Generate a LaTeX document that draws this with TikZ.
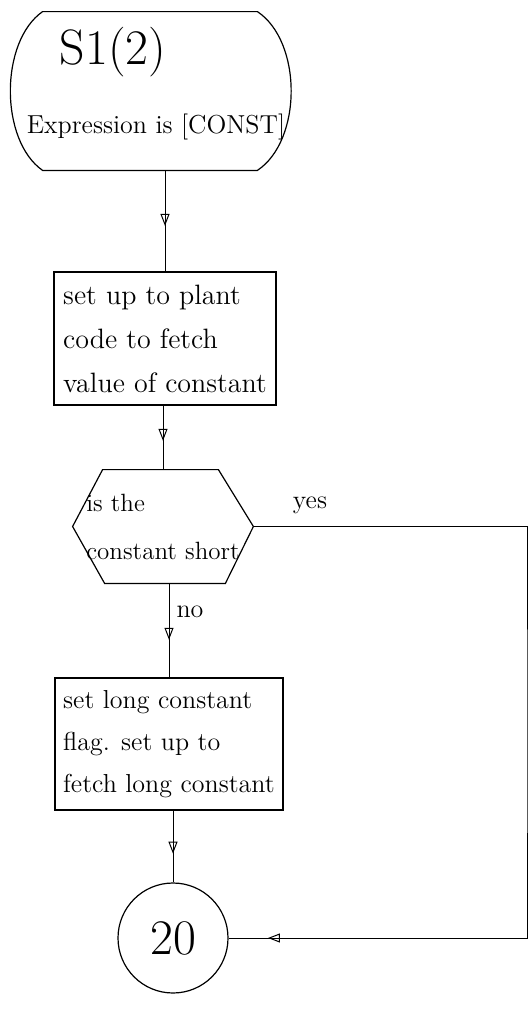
\documentclass[tikz,border=0pt]{standalone}
\usepackage{tikz}
\usetikzlibrary{arrows.meta, positioning, calc, decorations.markings}

\begin{document}
\begin{tikzpicture}[x=0.5pt, y=-0.5pt, >={Triangle[open, length=6pt, width=4.5pt]},
  flow/.style={line width=0.5pt, postaction={decorate}, decoration={markings, mark=at position #1 with {\arrow{>}}}}]
  \tikzstyle{proc} = [rectangle, draw=black, line width=0.6pt, align=left, inner sep=0pt, font=\fontsize{14}{22}\selectfont]
  \tikzstyle{outline} = [line width=0.6pt]
  \tikzstyle{lbl} = [font=\fontsize{13}{16}\selectfont]

  \useasboundingbox (0,0) rectangle (530,1012);

  \node [minimum width=107pt, minimum height=79pt, inner sep=0pt] (start) at (150,91) {};
  \draw [outline] (start.north west) -- (start.north east)
    .. controls ($(start.north east)+(45,30)$) and ($(start.south east)+(45,-30)$) .. (start.south east)
    -- (start.south west)
    .. controls ($(start.south west)+(-43,-30)$) and ($(start.north west)+(-43,30)$) .. cycle;
  \node [font=\Huge] (title) at (113,52) {S1(2)};
  \node [lbl] (expr) at (156,127) {Expression is [CONST]};

  \node [proc, minimum width=111pt, minimum height=66.5pt] (box1) at (165,338.5) {set up to plant\\code to fetch\\value of constant};

  \node [minimum width=90pt, minimum height=56.5pt, inner sep=0pt, align=left, font=\fontsize{12.5}{24}\selectfont] (decide) at (163,526.5) {is the\\constant short};
  \draw [outline] ($(decide.north west)+(30,0)$) -- ($(decide.north east)+(-35,0)$) -- (decide.east)
    -- ($(decide.south east)+(-28,0)$) -- ($(decide.south west)+(32,0)$) -- (decide.west) -- cycle;

  \node [proc, minimum width=114pt, minimum height=66pt, font=\fontsize{13}{21}\selectfont] (box2) at (169,744) {set long constant\\flag. set up to\\fetch long constant};

  \node [circle, draw, outline, minimum size=55pt, inner sep=0pt, font=\Huge] (ret) at (173,938) {20};

  \coordinate (rail) at (527,730);

  \draw [flow=0.55] (box1.north |- start.south) -- (box1.north);
  \draw [flow=0.55] (decide.north |- box1.south) -- (decide.north);
  \draw [flow=0.6] (box2.north |- decide.south) -- (box2.north);
  \draw [flow=0.6] (ret.north |- box2.south) -- (ret.north);
  \draw [flow=0.96] (decide.east) -| (rail) |- (ret.east);

  \node [lbl] (yes) at (310,505) {yes};
  \node [lbl] (no) at (190,612) {no};
\end{tikzpicture}
\end{document}
